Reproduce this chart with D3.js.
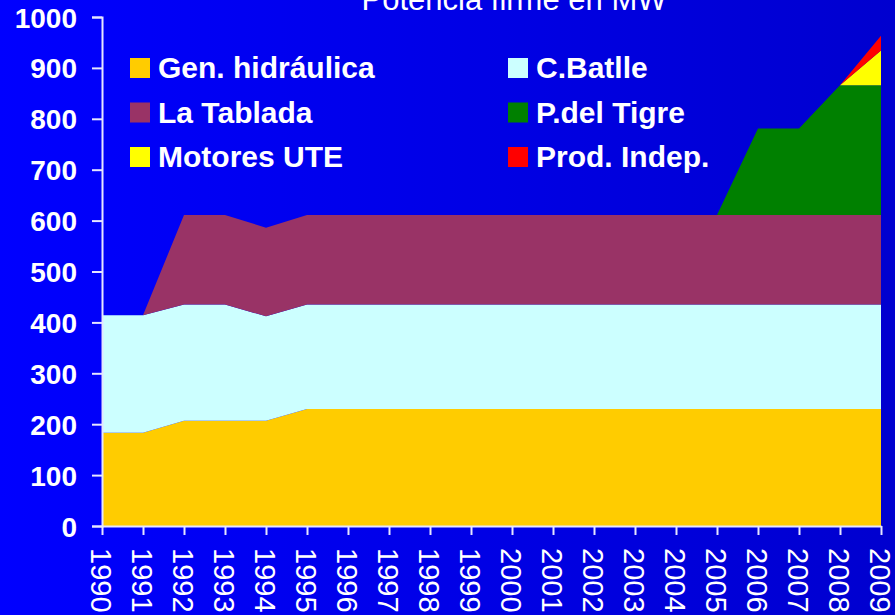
<!DOCTYPE html>
<html>
<head>
<meta charset="utf-8">
<script src="https://cdn.jsdelivr.net/npm/d3@7"></script>
<style>
  html, body { margin: 0; padding: 0; background: #0000ff; }
  svg { display: block; font-family: "Liberation Sans", Arial, sans-serif; }
</style>
</head>
<body>
<svg id="chart" width="895" height="615"></svg>
<script>
// potencia firme en MW, por fuente
var years = [1990, 1991, 1992, 1993, 1994, 1995, 1996, 1997, 1998, 1999,
             2000, 2001, 2002, 2003, 2004, 2005, 2006, 2007, 2008, 2009];
var hidraulica = [183, 183, 207, 207, 207, 230, 230, 230, 230, 230,
                  230, 230, 230, 230, 230, 230, 230, 230, 230, 230];
var batlle     = [231, 231, 228, 228, 205, 205, 205, 205, 205, 205,
                  205, 205, 205, 205, 205, 205, 205, 205, 205, 205];
var tablada    = [0, 0, 176, 176, 174, 176, 176, 176, 176, 176,
                  176, 176, 176, 176, 176, 176, 176, 176, 176, 176];
var tigre      = [0, 0, 0, 0, 0, 0, 0, 0, 0, 0,
                  0, 0, 0, 0, 0, 0, 170, 170, 255, 255];
var motores    = [0, 0, 0, 0, 0, 0, 0, 0, 0, 0,
                  0, 0, 0, 0, 0, 0, 0, 0, 0, 68];
var indep      = [0, 0, 0, 0, 0, 0, 0, 0, 0, 0,
                  0, 0, 0, 0, 0, 0, 0, 0, 0, 29];
var yTicks = [0, 100, 200, 300, 400, 500, 600, 700, 800, 900, 1000];

var series = [
  { key: "hid", name: "Gen. hidráulica", values: hidraulica, color: "#ffcc00" },
  { key: "bat", name: "C.Batlle", values: batlle, color: "#ccffff" },
  { key: "tab", name: "La Tablada", values: tablada, color: "#993366" },
  { key: "tig", name: "P.del Tigre", values: tigre, color: "#008000" },
  { key: "mot", name: "Motores UTE", values: motores, color: "#ffff00" },
  { key: "ind", name: "Prod. Indep.", values: indep, color: "#ff0000" }
];

var svg = d3.select("svg#chart"),
    W = 895, H = 615,
    margin = { top: 17, right: 14, bottom: 89, left: 102 },
    width = W - margin.left - margin.right,
    height = H - margin.top - margin.bottom;

// fondo degradado
var defs = svg.append("defs");
var grad = defs.append("linearGradient").attr("id", "bg")
    .attr("x1", "0").attr("y1", "0").attr("x2", "1").attr("y2", "0");
grad.append("stop").attr("offset", "0").attr("stop-color", "#0000ff");
grad.append("stop").attr("offset", "1").attr("stop-color", "#0000cf");
svg.append("rect").attr("width", W).attr("height", H).attr("fill", "url(#bg)");

var x = d3.scaleLinear().domain([1990, 2009]).range([0, width]);
var y = d3.scaleLinear().domain([0, 1000]).range([height, 0]);

var table = years.map(function (yr, i) {
  var row = { year: yr };
  series.forEach(function (s) { row[s.key] = s.values[i]; });
  return row;
});

var stack = d3.stack().keys(series.map(function (s) { return s.key; }));
var layers = stack(table);

var area = d3.area()
    .x(function (d) { return x(d.data.year); })
    .y0(function (d) { return y(d[0]); })
    .y1(function (d) { return y(d[1]); });

var g = svg.append("g")
    .attr("transform", "translate(" + margin.left + "," + margin.top + ")");

g.selectAll(".layer")
  .data(layers)
  .enter().append("path")
    .attr("class", "layer")
    .attr("fill", function (d, i) { return series[i].color; })
    .attr("d", area);

// ejes
var axisColor = "#e6e6ff";

var yAxis = g.append("g")
    .call(d3.axisLeft(y).tickValues(yTicks).tickFormat(d3.format("d")).tickSize(10).tickPadding(15));
yAxis.selectAll("line").attr("stroke", axisColor).attr("stroke-width", 2);
yAxis.select(".domain").attr("stroke", axisColor).attr("stroke-width", 2);
yAxis.selectAll("text")
    .attr("fill", "#ffffff")
    .style("font-size", "28px")
    .style("font-weight", "bold")
    .attr("dy", "0.36em");

var xAxis = g.append("g")
    .attr("transform", "translate(0," + height + ")")
    .call(d3.axisBottom(x).tickValues(years).tickFormat(d3.format("d")).tickSize(9).tickSizeOuter(0));
xAxis.selectAll("line").attr("stroke", axisColor).attr("stroke-width", 2);
xAxis.select(".domain").attr("stroke", axisColor).attr("stroke-width", 2);
xAxis.selectAll("text")
    .attr("fill", "#ffffff")
    .style("font-size", "29px")
    .attr("text-anchor", "start")
    .attr("dy", null)
    .attr("y", 0)
    .attr("transform", "translate(-12,22) rotate(90)");

// titulo
svg.append("text")
    .attr("x", 514)
    .attr("y", 10)
    .attr("text-anchor", "middle")
    .attr("fill", "#ffffff")
    .style("font-size", "31px")
    .text("Potencia firme en MW");

// leyenda
var legendOrder = ["hid", "bat", "tab", "tig", "mot", "ind"];
var legend = svg.append("g");
legendOrder.forEach(function (k, i) {
  var s = series.find(function (d) { return d.key === k; });
  var col = i % 2, row = Math.floor(i / 2);
  var lx = col === 0 ? 130 : 508, ly = 58 + row * 44.5;
  var item = legend.append("g").attr("transform", "translate(" + lx + "," + ly + ")");
  item.append("rect").attr("width", 20).attr("height", 20).attr("fill", s.color);
  item.append("text")
      .attr("x", 28).attr("y", 20)
      .attr("fill", "#ffffff")
      .style("font-size", "30px")
      .style("font-weight", "bold")
      .text(s.name);
});
</script>
</body>
</html>
